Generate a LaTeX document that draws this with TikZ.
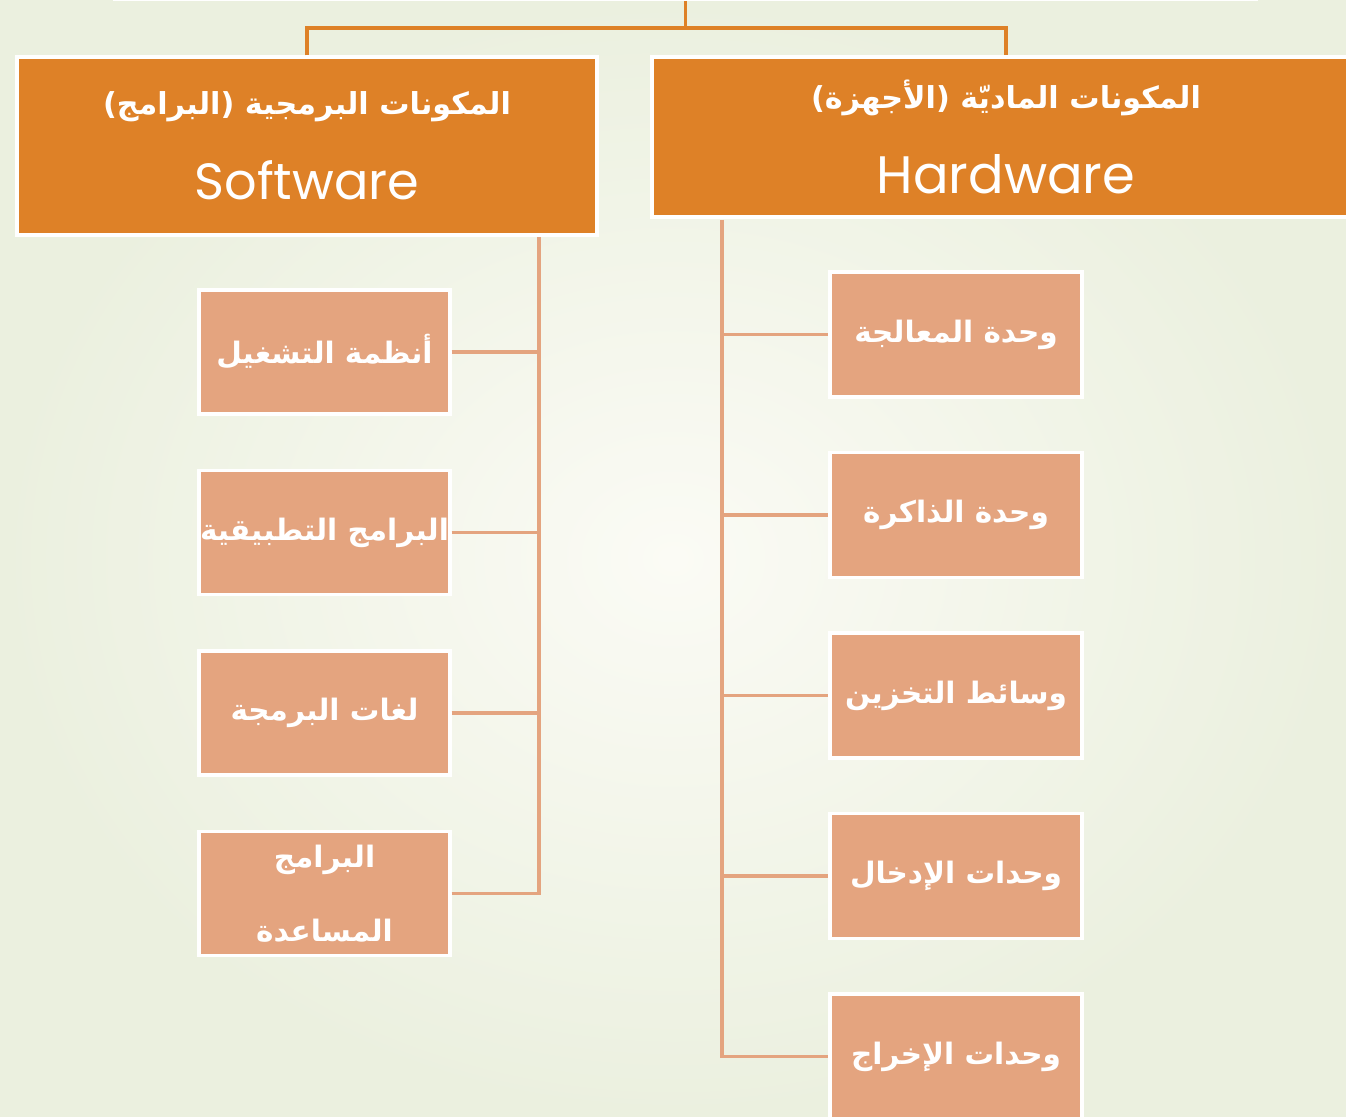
\documentclass[tikz,border=0pt]{standalone}
\usepackage{fontspec}
\newfontfamily\arabicfont[Script=Arabic]{DejaVu Sans}
\newfontfamily\latinfont{Poppins}
\TeXXeTstate=1
\definecolor{headorange}{RGB}{222,129,39}
\definecolor{leafsalmon}{RGB}{228,164,127}
\definecolor{bginner}{RGB}{251,251,245}
\definecolor{bgouter}{RGB}{235,240,223}

\begin{document}
\begin{tikzpicture}[x=0.1mm,y=-0.1mm]
    % 设置样式
    \tikzset{
        head/.style={rectangle, fill=headorange, draw=white, line width=0.9pt, text=white, align=center, inner sep=0pt},
        leaf/.style={rectangle, fill=leafsalmon, draw=white, line width=0.9pt, text=white, align=center, inner sep=0pt,
            minimum width=25.1mm, minimum height=12.4mm, font=\arabicfont\bfseries\fontsize{8.4}{21}\selectfont},
        headline/.style={draw=headorange, line width=0.9pt},
        leafline/.style={draw=leafsalmon, line width=0.9pt},
    }

    % 背景
    \shade[inner color=bginner, outer color=bgouter] (0,0) rectangle (1346,1117);
    \clip (0,0) rectangle (1346,1117);

    % 顶部方框 (只露出下边)
    \node[head, anchor=south, minimum width=114.1mm, minimum height=15mm] (root) at (685.5,1) {};

    % 两个主方框
    \node[head, minimum width=58mm, minimum height=17.8mm] (sw) at (307,146)
        {{\arabicfont\bfseries\fontsize{8.6}{20}\selectfont\beginR المكونات البرمجية (البرامج)\endR}\\[3.5mm]
         {\latinfont\fontsize{14.5}{20}\selectfont Software}};
    \node[head, minimum width=70.8mm, minimum height=16mm] (hw) at (1006,137)
        {{\arabicfont\bfseries\fontsize{8.6}{20}\selectfont\beginR المكونات الماديّة (الأجهزة)\endR}\\[3.5mm]
         {\latinfont\fontsize{15}{20}\selectfont Hardware}};

    % 顶部连线
    \coordinate (fork) at (685.5,28);
    \draw[headline] (root.south) -- (fork);
    \draw[headline] (sw.north) |- (fork) -| (hw.north);

    % 软件分支
    \foreach \name [count=\i] in {{\beginR أنظمة التشغيل\endR},
                                  {\beginR البرامج التطبيقية\endR},
                                  {\beginR لغات البرمجة\endR},
                                  {\beginR البرامج\endR\\\beginR المساعدة\endR}} {
        \node[leaf] (sw\i) at (324.5,{352+180.5*(\i-1)}) {\name};
    }
    \coordinate (swspine) at (539,237);
    \foreach \i in {1,2,3} {
        \draw[leafline] (sw\i.east) -- (sw\i.east -| swspine);
    }
    \draw[leafline] (sw4.east) -| (swspine);

    % 硬件分支
    \foreach \name [count=\i] in {{وحدة المعالجة}, {وحدة الذاكرة}, {وسائط التخزين}, {وحدات الإدخال}, {وحدات الإخراج}} {
        \node[leaf, minimum width=25.2mm, minimum height=12.5mm] (hw\i) at (956,{334.5+180.5*(\i-1)}) {\beginR\name\endR};
    }
    \coordinate (hwspine) at (722,220);
    \foreach \i in {1,2,3,4} {
        \draw[leafline] (hw\i.west -| hwspine) -- (hw\i.west);
    }
    \draw[leafline] (hwspine) |- (hw5.west);
\end{tikzpicture}
\end{document}
